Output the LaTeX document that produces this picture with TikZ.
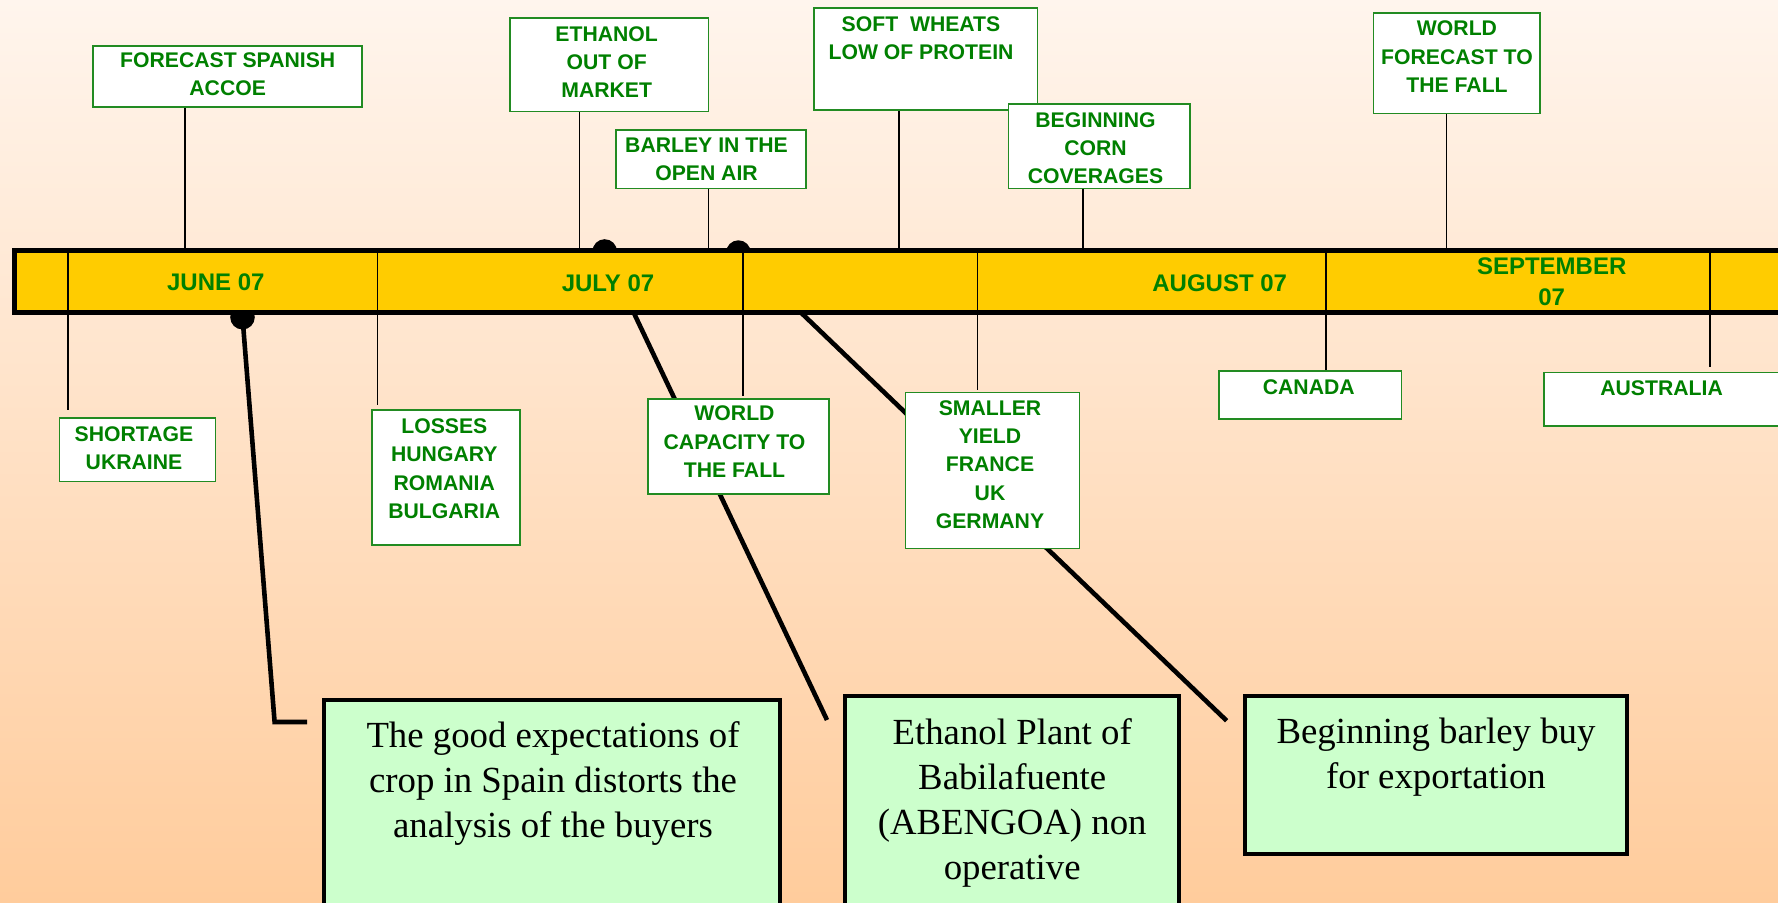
\documentclass[tikz,border=0pt]{standalone}
\usepackage{fontspec}
\setmainfont{Liberation Serif}
\newfontfamily\labfont{Liberation Sans}
\usetikzlibrary{fit}
\definecolor{bgtop}{RGB}{255,245,237}
\definecolor{bgbot}{RGB}{255,204,156}
\definecolor{barY}{RGB}{255,204,0}
\definecolor{lgreen}{RGB}{0,128,0}
\definecolor{lborder}{RGB}{34,139,34}
\definecolor{mint}{RGB}{204,255,204}
\begin{document}
\begin{tikzpicture}[x=0.5pt,y=-0.5pt,
  lbox/.style={draw=lborder, line width=0.8pt, fill=white, inner sep=0pt},
  ltxt/.style={font=\labfont\bfseries\fontsize{10.6pt}{14.15pt}\selectfont, text=lgreen, align=center, inner sep=0pt, anchor=north},
  btxt/.style={font=\labfont\bfseries\fontsize{12pt}{15.5pt}\selectfont, text=lgreen, align=center, inner sep=0pt, anchor=north},
  conn/.style={draw=black, line width=0.6pt},
  callout/.style={draw=black, line width=2.3pt},
  dot/.style={circle, fill=black, inner sep=0pt, minimum size=12.3pt},
  nbox/.style={draw=black, line width=2pt, fill=mint, inner sep=0pt},
  ntxt/.style={font=\fontsize{18.4pt}{22.5pt}\selectfont, align=center, inner sep=0pt, anchor=north}
]
\useasboundingbox (0,0) rectangle (1778,903);
\clip (0,0) rectangle (1778,903);
\shade[top color=bgtop, bottom color=bgbot] (0,0) rectangle (1778,903);

% callout dots and lines (behind the bar and boxes)
\node[dot] (dA) at (242.5,317.2) {};
\node[dot] (dB) at (604.7,251.5) {};
\node[dot] (dC) at (738.4,252.6) {};
\coordinate (aBend) at (274.6,722);
\coordinate (aEnd) at (307,722);
\coordinate (bEnd) at (827,720);
\coordinate (cEnd) at (1226.6,720.7);
\draw[callout] (dA.center) -- (aBend) -- (aEnd);
\draw[callout] (dB.center) -- (bEnd);
\draw[callout] (dC.center) -- (cEnd);

% timeline bar
\node[fit={(14.4,250.8) (1800,312.5)}, inner sep=0pt, draw=black, line width=2.5pt, fill=barY] (bar) {};

% upper boxes
\node[lbox, fit={(93,46) (362,107)}] (fc) {};
\node[lbox, fit={(510,18) (708.5,111.5)}] (eth) {};
\node[lbox, fit={(616,130) (806,188.7)}] (barl) {};
\node[lbox, fit={(814,8) (1037.5,110)}] (soft) {};
\node[lbox, fit={(1008.5,104) (1189.7,188.7)}] (beg) {};
\node[lbox, fit={(1373.5,13) (1539.7,113.7)}] (wff) {};
% lower boxes
\node[lbox, fit={(59.3,418.3) (215.5,481.7)}] (sho) {};
\node[lbox, fit={(372,410) (519.7,545)}] (los) {};
\node[lbox, fit={(647.8,399) (828.9,494.3)}] (wcap) {};
\node[lbox, fit={(905.4,392.7) (1079.5,548.3)}] (sma) {};
\node[lbox, fit={(1218.9,371.3) (1401.5,419)}] (can) {};
\node[lbox, fit={(1543.7,372.7) (1800,426)}] (aus) {};

% upper connectors
\coordinate (t1) at (185,248);
\coordinate (t2) at (579.5,248);
\coordinate (t3) at (708.5,248);
\coordinate (t4) at (899,248);
\coordinate (t5) at (1083,248);
\coordinate (t6) at (1446.8,248);
\draw[conn] (t1 |- fc.south) -- (t1);
\draw[conn] (t2 |- eth.south) -- (t2);
\draw[conn] (t3 |- barl.south) -- (t3);
\draw[conn] (t4 |- soft.south) -- (t4);
\draw[conn] (t5 |- beg.south) -- (t5);
\draw[conn] (t6 |- wff.south) -- (t6);

% dividers / lower connectors
\coordinate (v1) at (68,253);
\coordinate (v2) at (377.7,253);
\coordinate (v3) at (743,253);
\coordinate (v4) at (977.3,253);
\coordinate (v5) at (1326,253);
\coordinate (v6) at (1710,253);
\draw[conn, shorten >=3.65pt] (v1) -- (v1 |- sho.north);
\draw[conn, shorten >=2pt] (v2) -- (v2 |- los.north);
\draw[conn, shorten >=1.15pt] (v3) -- (v3 |- wcap.north);
\draw[conn, shorten >=0.7pt] (v4) -- (v4 |- sma.north);
\draw[conn] (v5) -- (v5 |- can.north);
\draw[conn, shorten >=2.35pt] (v6) -- (v6 |- aus.north);

% bar labels
\node[btxt] (junL) at (215.8,273.3) {JUNE 07};
\node[btxt] (julL) at (608,274) {JULY 07};
\node[btxt] (augL) at (1219.7,274) {AUGUST 07};
\node[btxt] (sepL) at (1551.7,257.7) {SEPTEMBER\\07};

% box texts
\node[ltxt] (fcT) at (227.7,52.3) {FORECAST SPANISH\\ACCOE};
\node[ltxt] (ethT) at (606.7,26) {ETHANOL\\OUT OF\\MARKET};
\node[ltxt] (barlT) at (706.5,137.7) {BARLEY IN THE\\OPEN AIR};
\node[ltxt] (softT) at (921,16) {SOFT\ \ WHEATS\\LOW OF PROTEIN};
\node[ltxt] (begT) at (1095.5,112) {BEGINNING\\CORN\\COVERAGES};
\node[ltxt] (wffT) at (1457,20.7) {WORLD\\FORECAST TO\\THE FALL};
\node[ltxt] (shoT) at (134,426) {SHORTAGE\\UKRAINE};
\node[ltxt] (losT) at (444.3,418.3) {LOSSES\\HUNGARY\\ROMANIA\\BULGARIA};
\node[ltxt] (wcapT) at (734.5,405.7) {WORLD\\CAPACITY TO\\THE FALL};
\node[ltxt] (smaT) at (990,400) {SMALLER\\YIELD\\FRANCE\\UK\\GERMANY};
\node[ltxt] (canT) at (1308.8,379) {CANADA};
\node[ltxt] (ausT) at (1661.6,380) {AUSTRALIA};

% note boxes
\node[nbox, fit={(323.7,699.7) (779.7,915)}] (n1) {};
\node[nbox, fit={(845.4,696.3) (1179,915)}] (n2) {};
\node[nbox, fit={(1244.8,696.3) (1627.3,854)}] (n3) {};
\node[ntxt] (n1t) at (553,721.6) {The good expectations of\\crop in Spain distorts the\\analysis of the buyers};
\node[ntxt] (n2t) at (1012.2,718) {Ethanol Plant of\\Babilafuente\\(ABENGOA) non\\operative};
\node[ntxt] (n3t) at (1436,718) {Beginning barley buy\\for exportation};
\end{tikzpicture}
\end{document}
